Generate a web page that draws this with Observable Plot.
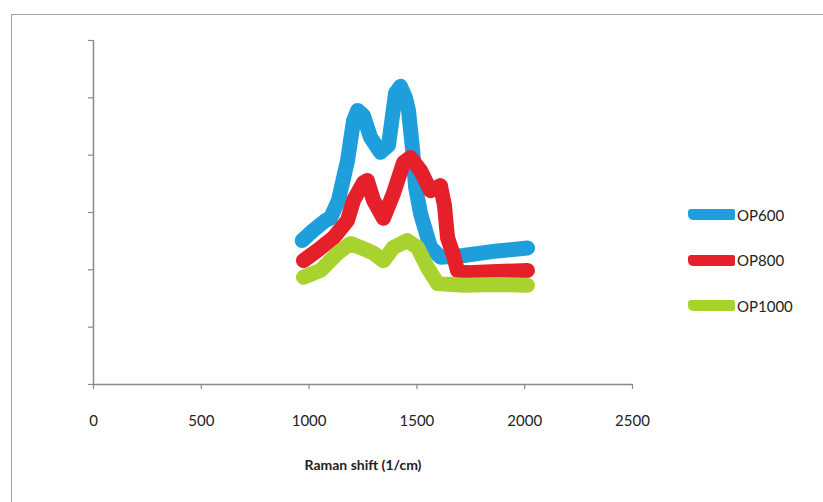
<!DOCTYPE html>
<html>
<head>
<meta charset="utf-8">
<script src="https://cdn.jsdelivr.net/npm/d3@7"></script>
<script src="https://cdn.jsdelivr.net/npm/@observablehq/plot@0.6"></script>
<style>
  html, body { margin: 0; padding: 0; background: #fff; }
  #wrap { position: relative; width: 823px; height: 502px; overflow: hidden; font-family: Lato, "Open Sans", sans-serif; }
  #frame { position: absolute; left: 11px; top: 14px; width: 900px; height: 600px; border-left: 1.5px solid #a3a3a3; border-top: 1.5px solid #a3a3a3; }
  #chart { position: absolute; left: 0; top: 0; }
  #chart svg text { font-family: Lato, "Open Sans", sans-serif; }
  #legend { position: absolute; left: 688px; top: 192px; }
  .item { display: flex; align-items: center; height: 45.5px; }
  .sw { width: 47px; height: 11px; border-radius: 3px 2px 2px 5px; margin-right: 2px; }
  .lab { font-size: 15px; color: #222; }
</style>
</head>
<body>
<div id="wrap">
  <div id="frame"></div>
  <div id="chart"></div>
  <div id="legend"></div>
</div>
<script>
// ---- data (Raman shift in 1/cm, intensity in arbitrary units) ----
const seriesNames = ["OP600", "OP800", "OP1000"];
const seriesColors = ["#1e9fdc", "#e5202b", "#a8d22e"];

const op600X = [968, 1020, 1076, 1099, 1136, 1178, 1206, 1225, 1252, 1285, 1331, 1368, 1401, 1424, 1447, 1461, 1480, 1494, 1517, 1563, 1609, 1716, 1874, 2013];
const op600Y = [2510, 2690, 2860, 2900, 3210, 3900, 4600, 4780, 4690, 4310, 4050, 4170, 5080, 5200, 5000, 4780, 4100, 3440, 2980, 2390, 2220, 2250, 2330, 2380];

const op800X = [974, 1039, 1113, 1178, 1206, 1252, 1270, 1299, 1345, 1391, 1438, 1470, 1517, 1563, 1609, 1628, 1642, 1670, 1688, 1735, 1874, 2013];
const op800Y = [2160, 2340, 2560, 2860, 3210, 3520, 3560, 3210, 2900, 3330, 3870, 3960, 3730, 3380, 3470, 3120, 2560, 2250, 1990, 1950, 1970, 1990];

const op1000X = [974, 1053, 1132, 1192, 1238, 1299, 1345, 1391, 1456, 1503, 1549, 1596, 1716, 1874, 2013];
const op1000Y = [1870, 1990, 2290, 2460, 2390, 2290, 2160, 2390, 2510, 2390, 2040, 1760, 1730, 1745, 1730];

const xTicks = [0, 500, 1000, 1500, 2000, 2500];
const yTicks = [0, 1000, 2000, 3000, 4000, 5000, 6000];

const table = [];
[[op600X, op600Y], [op800X, op800Y], [op1000X, op1000Y]].forEach(([xs, ys], i) => {
  xs.forEach((x, j) => table.push({series: seriesNames[i], x, y: ys[j]}));
});

const axisColor = "#8a8a8a";

const chart = Plot.plot({
  width: 823,
  height: 502,
  marginLeft: 93,
  marginRight: 191,
  marginTop: 40,
  marginBottom: 118,
  style: {background: "transparent", fontSize: "15px", color: "#222"},
  x: {domain: [0, 2500], ticks: xTicks},
  y: {domain: [0, 6000], ticks: yTicks},
  color: {domain: seriesNames, range: seriesColors},
  marks: [
    Plot.axisY({ticks: yTicks, tickSize: 5, tickFormat: () => "", label: null, stroke: axisColor, strokeWidth: 1.2}),
    Plot.axisX({ticks: xTicks, tickSize: 5, tickPadding: 26, tickFormat: d => String(d), stroke: axisColor, strokeWidth: 1.2,
      label: "Raman shift (1/cm)", labelAnchor: "center", labelArrow: "none", labelOffset: 85}),
    Plot.ruleX([0], {stroke: axisColor, strokeWidth: 1.5}),
    Plot.ruleY([0], {stroke: axisColor, strokeWidth: 1.5}),
    Plot.line(table, {x: "x", y: "y", z: "series", stroke: "series", strokeWidth: 15, strokeLinejoin: "round", strokeLinecap: "round", curve: "linear"})
  ]
});
document.getElementById("chart").appendChild(chart);

// bold axis title
chart.querySelectorAll('[aria-label="x-axis label"]').forEach(g => {
  g.setAttribute("font-weight", "bold");
  g.setAttribute("font-size", "14");
  g.querySelectorAll("text").forEach(t => { t.style.fontWeight = "bold"; t.style.fontSize = "14px"; });
});

// legend
const legend = document.getElementById("legend");
seriesNames.forEach((name, i) => {
  const it = document.createElement("div");
  it.className = "item";
  it.innerHTML = `<div class="sw" style="background:${seriesColors[i]}"></div><span class="lab">${name}</span>`;
  legend.appendChild(it);
});
</script>
</body>
</html>
